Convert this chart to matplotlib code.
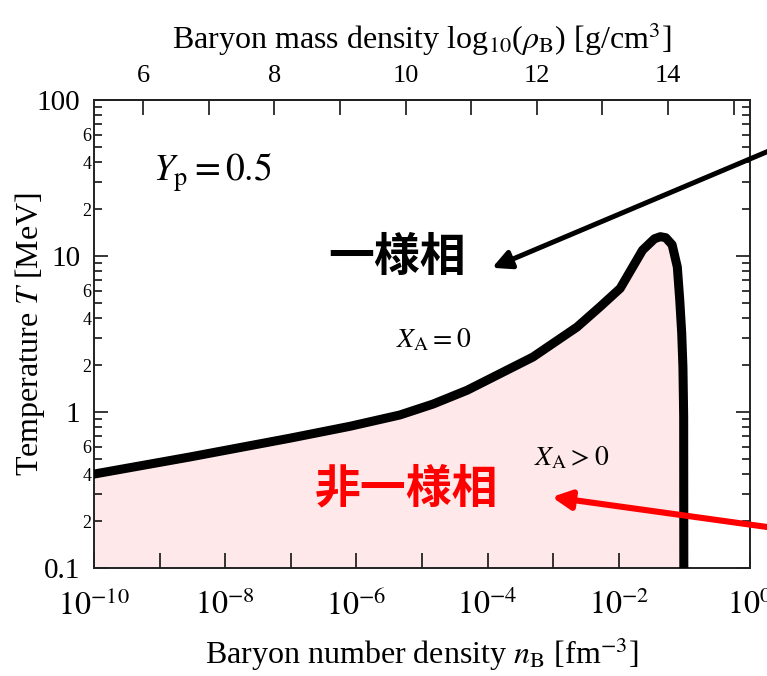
import numpy as np
import matplotlib
matplotlib.use("Agg")
import matplotlib.pyplot as plt
from matplotlib.ticker import FixedLocator, FixedFormatter, NullLocator

plt.rcParams['font.family'] = ['Liberation Serif', 'DejaVu Serif']
plt.rcParams['mathtext.fontset'] = 'stix'

# phase boundary (X_A = 0 line)
n_b = [1e-10, 2.9e-9, 9.8e-8, 8.0e-7, 4.6e-6, 1.48e-5, 4.9e-5, 4.9e-4, 2.3e-3, 5.1e-3,
       1.05e-2, 2.3e-2, 3.5e-2, 4.3e-2, 5.2e-2, 6.5e-2, 7.8e-2, 8.5e-2,
       9.1e-2, 9.5e-2, 9.75e-2, 9.8e-2]
temp = [0.40, 0.515, 0.68, 0.81, 0.957, 1.125, 1.38, 2.25, 3.5, 4.7,
        6.2, 10.9, 12.9, 13.3, 13.1, 11.8, 8.5, 5.2,
        3.2, 1.94, 0.93, 0.1]

# top axis: log10(rho_B) = log10(n_B) + shift
rho_shift = 15.25

x_major = [10.0**k for k in range(-10, 1)]
x_labels = [r'$10^{%d}$' % k if k % 2 == 0 else '' for k in range(-10, 1)]
y_major = [0.1, 1, 10, 100]
y_major_labels = ['0.1', '1', '10', '100']
y_minor = [m * 10.0**d for d in range(-1, 2) for m in range(2, 10)]
y_minor_labels = [str(m) if m in (2, 4, 6) else '' for d in range(-1, 2) for m in range(2, 10)]
top_ticks = list(range(6, 16))
top_labels = [str(v) if v % 2 == 0 else '' for v in top_ticks]

fig = plt.figure(figsize=(7.67, 6.76), dpi=100)
ax = fig.add_axes([94/767, 108/676, 656/767, 468/676])
ax.set_xscale('log')
ax.set_yscale('log')
ax.set_xlim(1e-10, 1)
ax.set_ylim(0.1, 100)

poly_x = n_b + [n_b[-1], n_b[0]]
poly_y = temp + [0.1, 0.1]
ax.fill(poly_x, poly_y, color='#ffe8ea', lw=0, zorder=1)
ax.plot(n_b, temp, color='black', lw=6.5, solid_joinstyle='round', zorder=3)

# ticks
ax.xaxis.set_major_locator(FixedLocator(x_major))
ax.xaxis.set_major_formatter(FixedFormatter(x_labels))
ax.xaxis.set_minor_locator(NullLocator())
ax.yaxis.set_major_locator(FixedLocator(y_major))
ax.yaxis.set_major_formatter(FixedFormatter(y_major_labels))
ax.yaxis.set_minor_locator(FixedLocator(y_minor))
ax.yaxis.set_minor_formatter(FixedFormatter(y_minor_labels))
ax.tick_params(axis='x', which='major', direction='in', length=11, width=1.1,
               labelsize=23, pad=16, top=False, bottom=True)
ax.tick_params(axis='y', which='major', direction='in', length=10, width=1.1,
               labelsize=21, pad=10, left=True, right=True)
ax.tick_params(axis='y', which='minor', direction='in', length=6, width=1.1,
               labelsize=13, pad=2, left=True, right=True)
for s in ax.spines.values():
    s.set_linewidth(1.4)
    s.set_color('#222222')

top = ax.secondary_xaxis('top', functions=(lambda n: np.log10(np.clip(n, 1e-300, None)) + rho_shift,
                                           lambda r: 10.0**(r - rho_shift)))
top.set_xticks(top_ticks)
top.set_xticklabels(top_labels)
top.xaxis.set_minor_locator(NullLocator())
top.tick_params(direction='in', length=11, width=1.1, labelsize=19, pad=9)
top.spines['top'].set_linewidth(1.4)
top.set_xlabel(r'Baryon mass density log$_{10}$($\rho_\mathrm{B}$) [g/cm$^3$]',
               fontsize=23, labelpad=12)

ax.set_xlabel(r'Baryon number density $n_\mathrm{B}$ [fm$^{-3}$]', fontsize=23, labelpad=10)
fig.text(30/767, 1 - 334/676, r'Temperature $T$ [MeV]', fontsize=23,
         rotation=90, ha='center', va='center')

# annotations
ax.text(7.9e-10, 34.5, r'$Y_\mathrm{p} = 0.5$', fontsize=27, ha='left', va='center')
ax.text(1.5e-5, 2.9, r'$X_\mathrm{A} = 0$', fontsize=20, ha='center', va='center')
ax.text(1.9e-3, 0.507, r'$X_\mathrm{A} > 0$', fontsize=20, ha='center', va='center')

ax.text(4.2e-6, 9.7, '一様相', family=['Noto Sans CJK JP'], weight='bold',
        fontsize=33, color='black', ha='center', va='center', zorder=5)
ax.text(5.9e-6, 0.32, '非一様相', family=['Noto Sans CJK JP'], weight='bold',
        fontsize=33, color='#ff0000', ha='center', va='center', zorder=5)

ax.annotate('', xy=(1.17e-4, 8.4), xytext=(16.6, 69),
            arrowprops=dict(arrowstyle='-|>', lw=3.6, color='black',
                            mutation_scale=28, shrinkA=0, shrinkB=0),
            annotation_clip=False, zorder=6)
ax.annotate('', xy=(9.5e-4, 0.285), xytext=(16.6, 0.161),
            arrowprops=dict(arrowstyle='-|>', lw=4.4, color='#ff0000',
                            mutation_scale=28, shrinkA=0, shrinkB=0),
            annotation_clip=False, zorder=6)

fig.savefig('out.png', dpi=100)
